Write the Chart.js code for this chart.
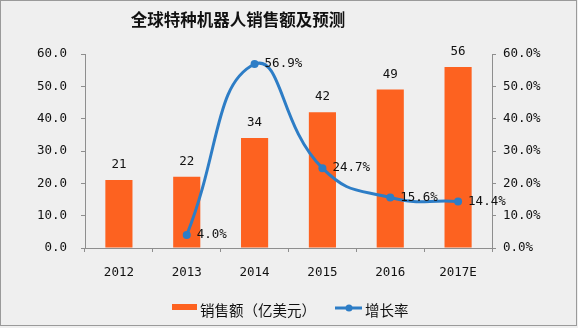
<!DOCTYPE html>
<html>
<head>
<meta charset="utf-8">
<script src="https://cdn.jsdelivr.net/npm/chart.js@4/dist/chart.umd.min.js"></script>
<style>
html, body { margin: 0; padding: 0; background: #fff; }
canvas { display: block; }
</style>
</head>
<body>
<canvas id="chart" width="578" height="328"></canvas>
<script>
// ==================== DATA ====================
const years = ["2012", "2013", "2014", "2015", "2016", "2017E"];
const sales = [21, 22, 34, 42, 49, 56];               // 亿美元
const growth = [null, 4.0, 56.9, 24.7, 15.6, 14.4];   // %
const titleText = "全球特种机器人销售额及预测";
const salesLabel = "销售额（亿美元）";
const growthLabel = "增长率";

const ORANGE = "#fd6220";
const BLUE = "#2d7dc6";
const AXIS = "#8e8e8e";
const MONO = '"DejaVu Sans Mono", monospace';
const CJK = '"Noto Sans CJK SC", sans-serif';

// ==================== PLUGINS ====================
const frame = {
  id: "frame",
  beforeDraw(chart) {
    const ctx = chart.ctx;
    ctx.save();
    ctx.fillStyle = "#efefef";
    ctx.fillRect(0, 0, chart.width, chart.height);
    ctx.strokeStyle = "#9a9a9a";
    ctx.lineWidth = 1;
    ctx.strokeRect(0.5, 0.5, 576, 325);
    // title
    ctx.fillStyle = "#111";
    ctx.font = "bold 16.5px " + CJK;
    ctx.textAlign = "center";
    ctx.textBaseline = "middle";
    ctx.fillText(titleText, 238, 20);
    ctx.restore();
  },
  afterDraw(chart) {
    // legend at the bottom
    const ctx = chart.ctx;
    ctx.save();
    ctx.fillStyle = ORANGE;
    ctx.fillRect(172, 304, 25, 6);
    ctx.strokeStyle = BLUE;
    ctx.lineWidth = 3;
    ctx.beginPath();
    ctx.moveTo(335, 308);
    ctx.lineTo(362, 308);
    ctx.stroke();
    ctx.fillStyle = BLUE;
    ctx.beginPath();
    ctx.arc(349, 308, 3.5, 0, Math.PI * 2);
    ctx.fill();
    ctx.fillStyle = "#111";
    ctx.font = "14.5px " + CJK;
    ctx.textAlign = "left";
    ctx.textBaseline = "middle";
    ctx.fillText(salesLabel, 200, 310);
    ctx.fillText(growthLabel, 365, 310);
    ctx.restore();
  }
};

const valueLabels = {
  id: "valueLabels",
  afterDatasetsDraw(chart) {
    const ctx = chart.ctx;
    ctx.save();
    ctx.font = "12.5px " + MONO;
    ctx.fillStyle = "#111";
    ctx.textBaseline = "middle";

    ctx.textAlign = "center";
    chart.getDatasetMeta(0).data.forEach((bar, i) => {
      ctx.fillText(String(sales[i]), bar.x, bar.y - 15);
    });

    ctx.textAlign = "left";
    chart.getDatasetMeta(1).data.forEach((pt, i) => {
      if (growth[i] == null) return;
      ctx.fillText(growth[i].toFixed(1) + "%", pt.x + 10, pt.y);
    });
    ctx.restore();
  }
};

// ==================== CHART ====================
const tickFont = { family: MONO, size: 12.5 };

new Chart(document.getElementById("chart"), {
  data: {
    labels: years,
    datasets: [
      {
        type: "bar",
        label: salesLabel,
        data: sales,
        backgroundColor: ORANGE,
        barPercentage: 0.4,
        categoryPercentage: 1,
        yAxisID: "y",
        order: 1
      },
      {
        type: "line",
        label: growthLabel,
        data: growth,
        borderColor: BLUE,
        backgroundColor: BLUE,
        borderWidth: 3,
        pointRadius: 4,
        pointBackgroundColor: BLUE,
        pointBorderWidth: 0,
        tension: 0.5,
        yAxisID: "y1",
        order: 0
      }
    ]
  },
  options: {
    responsive: false,
    animation: false,
    layout: { padding: { top: 54, left: 0, right: 0, bottom: 0 } },
    plugins: {
      legend: { display: false },
      title: { display: false },
      tooltip: { enabled: false }
    },
    scales: {
      x: {
        grid: { drawOnChartArea: false, drawTicks: true, tickLength: 4, color: AXIS },
        border: { color: AXIS },
        ticks: { font: tickFont, color: "#111", padding: 13, maxRotation: 0 },
        afterFit(s) { s.height = 80; }
      },
      y: {
        position: "left",
        min: 0,
        max: 60,
        grid: { drawOnChartArea: false, drawTicks: true, tickLength: 4, color: AXIS },
        border: { color: AXIS },
        ticks: {
          stepSize: 10,
          font: tickFont,
          color: "#111",
          padding: 14,
          callback: v => v.toFixed(1)
        },
        afterFit(s) { s.width = 85; }
      },
      y1: {
        position: "right",
        min: 0,
        max: 60,
        grid: { drawOnChartArea: false, drawTicks: true, tickLength: 4, color: AXIS },
        border: { color: AXIS },
        ticks: {
          stepSize: 10,
          font: tickFont,
          color: "#111",
          padding: 7,
          callback: v => v.toFixed(1) + "%"
        },
        afterFit(s) { s.width = 86; }
      }
    }
  },
  plugins: [frame, valueLabels]
});
</script>
</body>
</html>
